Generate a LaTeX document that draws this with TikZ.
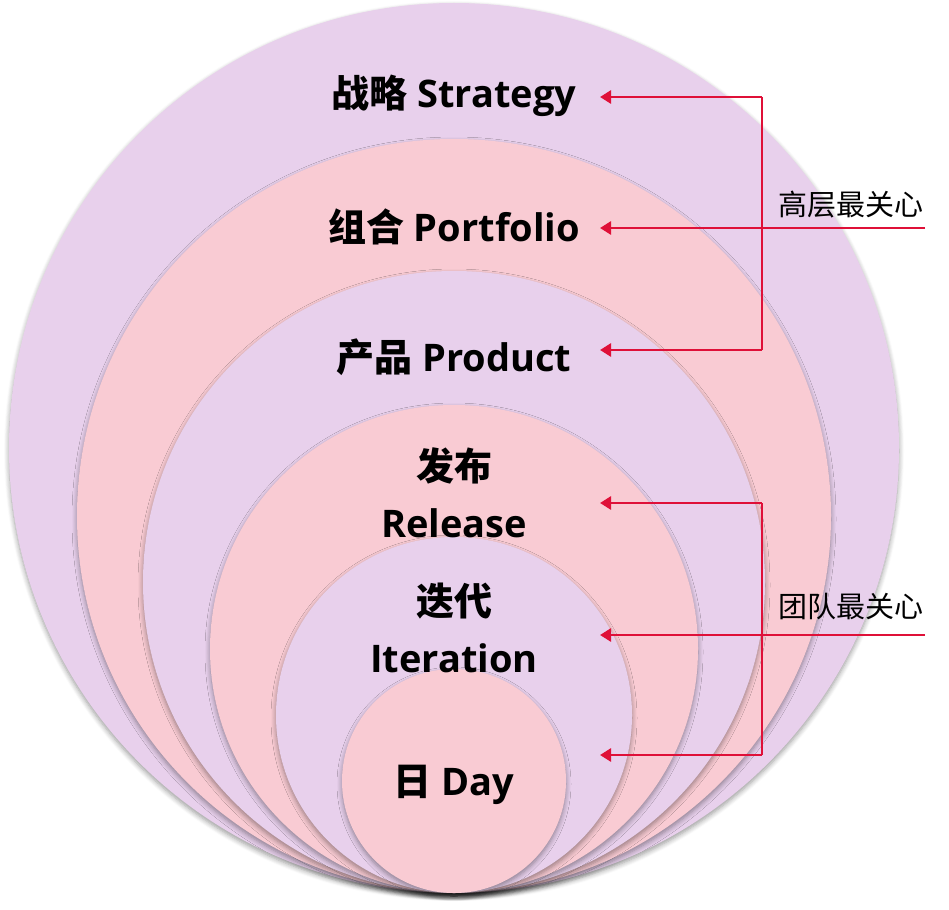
\documentclass[tikz,border=0pt]{standalone}
\usepackage{fontspec}
\setmainfont{Open Sans}
\newfontfamily\cjk{Noto Sans CJK SC}
\usetikzlibrary{arrows.meta,shadows.blur}
\definecolor{ringpurple}{HTML}{E8D0EC}
\definecolor{ringpink}{HTML}{F9CBD3}
\definecolor{arrowred}{HTML}{DF1038}
\tikzset{
  ring/.style={blur shadow={shadow xshift=0pt,shadow yshift=-3pt,shadow blur steps=6,shadow opacity=40,shadow blur radius=5pt}},
  lbl/.style={font=\fontsize{38}{57}\selectfont\bfseries, text=black, align=center, inner sep=0pt},
  side/.style={font=\cjk\fontsize{29}{30}\selectfont, text=black, inner sep=0pt},
  redline/.style={draw=arrowred, line width=2.7pt},
  redarrow/.style={redline, -{Triangle[length=11pt,width=13pt]}}
}
\begin{document}
\begin{tikzpicture}[x=1pt,y=-1pt]
\useasboundingbox (0,0) rectangle (949,909);
\fill[ringpurple,ring] (454,448) circle[radius=445pt];
\fill[ringpink,ring]   (454,516) circle[radius=377pt];
\fill[ringpurple,ring] (454,582) circle[radius=311pt];
\fill[ringpink,ring]   (454,649) circle[radius=244pt];
\fill[ringpurple,ring] (454,715) circle[radius=178pt];
\fill[ringpink,ring]   (454,781) circle[radius=112pt];

\node[lbl] (strategy) at (454,96) {{\cjk\bfseries 战略} Strategy};
\node[lbl] (portfolio) at (454,227) {{\cjk\bfseries 组合} Portfolio};
\node[lbl] (product) at (454,357) {{\cjk\bfseries 产品} Product};
\node[lbl] (release) at (454,493) {{\cjk\bfseries 发布}\\Release};
\node[lbl] (iteration) at (454,628) {{\cjk\bfseries 迭代}\\Iteration};
\node[lbl] (day) at (454,785) {{\cjk\bfseries 日} Day};

\node[side] (top) at (851,205) {高层最关心};
\node[side] (team) at (851,607) {团队最关心};

\coordinate (t1) at (600,97);
\coordinate (t2) at (600,228);
\coordinate (t3) at (600,350);
\coordinate (b1) at (762,97);
\coordinate (b3) at (762,350);
\coordinate (e1) at (925,228);
\draw[redline] (b1) -- (b3);
\draw[redarrow] (b1) -- (t1);
\draw[redarrow] (b3) -- (t3);
\draw[redarrow] (e1) -- (t2);

\coordinate (u1) at (600,503);
\coordinate (u2) at (600,635);
\coordinate (u3) at (600,755);
\coordinate (c1) at (762,503);
\coordinate (c3) at (762,755);
\coordinate (f1) at (925,635);
\draw[redline] (c1) -- (c3);
\draw[redarrow] (c1) -- (u1);
\draw[redarrow] (c3) -- (u3);
\draw[redarrow] (f1) -- (u2);
\end{tikzpicture}
\end{document}
